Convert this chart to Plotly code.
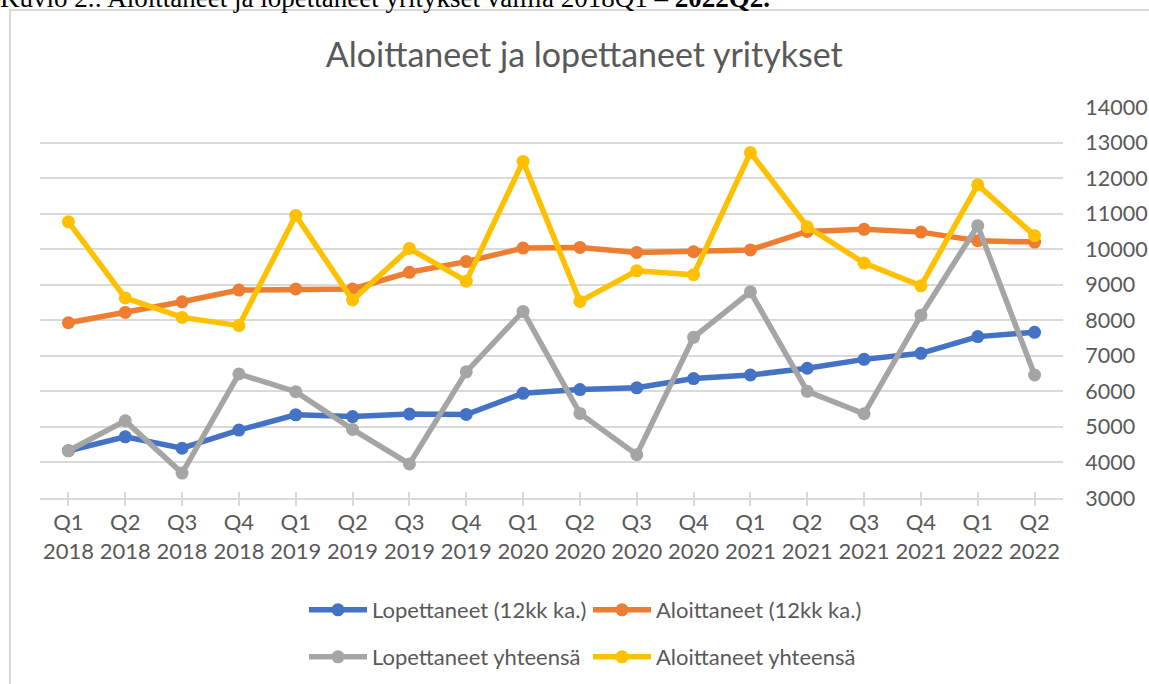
import plotly.graph_objects as go

quarters = ["Q1", "Q2", "Q3", "Q4", "Q1", "Q2", "Q3", "Q4", "Q1", "Q2", "Q3", "Q4",
            "Q1", "Q2", "Q3", "Q4", "Q1", "Q2"]
years = ["2018"] * 4 + ["2019"] * 4 + ["2020"] * 4 + ["2021"] * 4 + ["2022"] * 2
categories = [f"{q}<br>{y}" for q, y in zip(quarters, years)]

lopettaneet_12kk = [4330, 4720, 4400, 4910, 5340, 5290, 5360, 5350, 5945, 6050,
                    6100, 6360, 6460, 6650, 6900, 7070, 7540, 7660]
aloittaneet_12kk = [7930, 8220, 8520, 8850, 8880, 8880, 9350, 9650, 10030, 10050,
                    9910, 9930, 9980, 10500, 10560, 10480, 10240, 10200]
lopettaneet_yht = [4330, 5170, 3700, 6490, 5990, 4930, 3960, 6550, 8250, 5380,
                   4220, 7520, 8800, 6000, 5370, 8140, 10660, 6460]
aloittaneet_yht = [10770, 8630, 8080, 7850, 10950, 8570, 10020, 9100, 12470, 8530,
                   9390, 9280, 12720, 10630, 9610, 8970, 11810, 10380]

series_names = ["Lopettaneet (12kk ka.)", "Aloittaneet (12kk ka.)",
                "Lopettaneet yhteensä", "Aloittaneet yhteensä"]
series_values = [lopettaneet_12kk, aloittaneet_12kk, lopettaneet_yht, aloittaneet_yht]
series_colors = ["#4472C4", "#ED7D31", "#A5A5A5", "#FFC000"]
series_legends = ["legend", "legend", "legend2", "legend2"]

y_ticks = list(range(3000, 14001, 1000))

FONT = "Lato"
TXT = "#595959"
GRID = "#D9D9D9"

fig = go.Figure()
for name, vals, col, lg in zip(series_names, series_values, series_colors, series_legends):
    fig.add_trace(go.Scatter(
        x=categories, y=vals, name=name, mode="lines+markers",
        line=dict(color=col, width=5.5),
        marker=dict(color=col, size=13),
        legend=lg,
    ))

# invisible trace on overlay axis to draw the inner half of the crossing ticks
fig.add_trace(go.Scatter(x=categories, y=[None] * len(categories), xaxis="x2",
                         showlegend=False, hoverinfo="skip"))

L, R, T, B = 40, 86, 107, 186
W, H = 1149, 684
pw, ph = W - L - R, H - T - B

def px_x(p):
    return (p - L) / pw

def px_y(p):
    return (H - B - p) / ph

fig.update_layout(
    width=W, height=H,
    margin=dict(l=L, r=R, t=T, b=B, autoexpand=False),
    paper_bgcolor="white", plot_bgcolor="white",
    font=dict(family=FONT, color=TXT, size=22),
    title=dict(text="Aloittaneet ja lopettaneet yritykset", x=0.5085, xanchor="center",
               y=1 - 55 / H, yanchor="middle",
               font=dict(family=FONT, size=34, color=TXT)),
    xaxis=dict(type="category", range=[-0.5, 17.5], showgrid=False,
               showline=True, linecolor=GRID, linewidth=1.5,
               ticks="outside", ticklen=6, tickcolor=GRID, tickwidth=1.5,
               ticklabelstandoff=-2,
               tickfont=dict(family=FONT, size=22, color=TXT)),
    xaxis2=dict(type="category", overlaying="x", matches="x", side="bottom",
                anchor="y", showgrid=False, showline=False, ticks="inside",
                ticklen=6, tickcolor=GRID, tickwidth=1.5, showticklabels=False),
    yaxis=dict(side="right", range=[3000, 14000], tickvals=y_ticks, tickformat="d",
               showgrid=True, gridcolor=GRID, gridwidth=1.5, zeroline=False,
               showline=False, ticks="outside", ticklen=17, tickcolor="rgba(0,0,0,0)",
               tickfont=dict(family=FONT, size=21.5, color=TXT)),
    legend=dict(orientation="h", x=px_x(304), xanchor="left", y=px_y(610), yanchor="middle",
                itemwidth=58, entrywidth=211, font=dict(family=FONT, size=22, color=TXT),
                bgcolor="rgba(0,0,0,0)"),
    legend2=dict(orientation="h", x=px_x(304), xanchor="left", y=px_y(657), yanchor="middle",
                 itemwidth=58, entrywidth=211, font=dict(family=FONT, size=22, color=TXT),
                 bgcolor="rgba(0,0,0,0)"),
    shapes=[dict(type="rect", xref="paper", yref="paper",
                 x0=px_x(10), x1=px_x(1170), y0=px_y(720), y1=px_y(10),
                 line=dict(color=GRID, width=2), fillcolor="rgba(0,0,0,0)", layer="below")],
    annotations=[dict(text="Kuvio 2.: Aloittaneet ja lopettaneet yritykset välillä 2018Q1 – <b>2022Q2.</b>",
                      xref="paper", yref="paper", x=px_x(-2), y=px_y(-2),
                      xanchor="left", yanchor="middle", showarrow=False,
                      font=dict(family="Liberation Serif", size=27, color="black"))],
)

fig.write_html("out.html", config={"displayModeBar": False},
               post_script="document.body.style.margin='0';")
